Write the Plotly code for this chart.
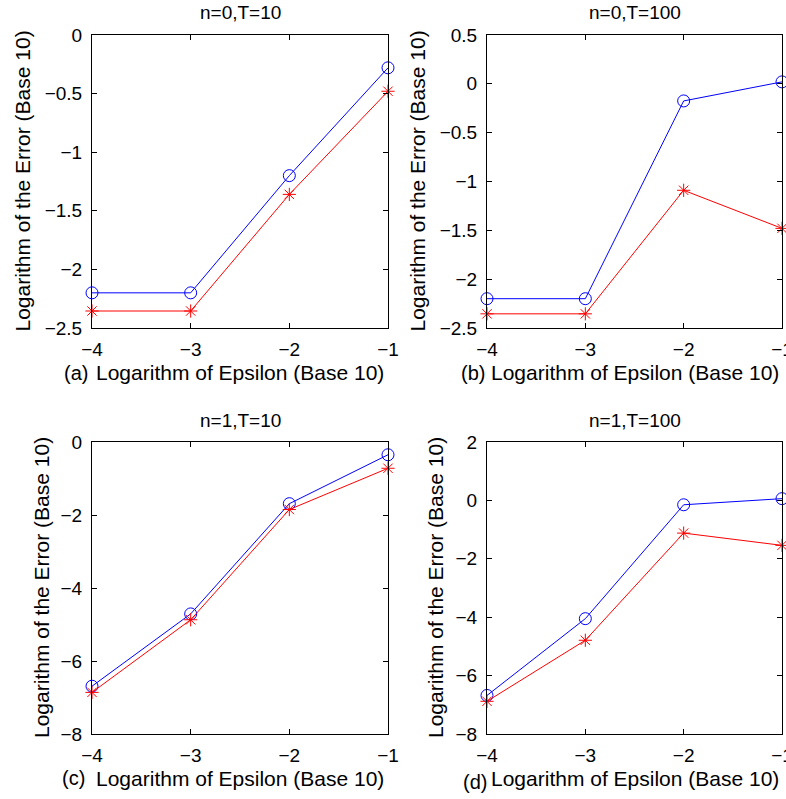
import plotly.graph_objects as go

W, H = 786, 799
FONT = "Liberation Sans, Arial, Helvetica, sans-serif"

# ---- data ----
log_eps = [-4, -3, -2, -1]

a_blue = [-2.20, -2.20, -1.20, -0.28]
a_red = [-2.355, -2.355, -1.36, -0.48]

b_blue = [-2.20, -2.20, -0.175, 0.02]
b_red = [-2.355, -2.355, -1.09, -1.48]

c_blue = [-6.69, -4.71, -1.69, -0.35]
c_red = [-6.86, -4.87, -1.85, -0.72]

d_blue = [-6.68, -4.05, -0.15, 0.06]
d_red = [-6.88, -4.79, -1.12, -1.54]

titles = ["n=0,T=10", "n=0,T=100", "n=1,T=10", "n=1,T=100"]
panel_tags = ["(a)", "(b)", "(c)", "(d)"]
xlabel = "Logarithm of Epsilon (Base 10)"
ylabel = "Logarithm of the Error (Base 10)"

x_ticks = [-4, -3, -2, -1]
x_ticktext = ["\u22124", "\u22123", "\u22122", "\u22121"]

a_yticks = [-2.5, -2, -1.5, -1, -0.5, 0]
a_yticktext = ["\u22122.5", "\u22122", "\u22121.5", "\u22121", "\u22120.5", "0"]
b_yticks = [-2.5, -2, -1.5, -1, -0.5, 0, 0.5]
b_yticktext = ["\u22122.5", "\u22122", "\u22121.5", "\u22121", "\u22120.5", "0", "0.5"]
c_yticks = [-8, -6, -4, -2, 0]
c_yticktext = ["\u22128", "\u22126", "\u22124", "\u22122", "0"]
d_yticks = [-8, -6, -4, -2, 0, 2]
d_yticktext = ["\u22128", "\u22126", "\u22124", "\u22122", "0", "2"]

yranges = [[-2.5, 0], [-2.5, 0.5], [-8, 0], [-8, 2]]

# ---- layout geometry (pixels) ----
boxes = [  # left, right, top, bottom
    (92, 388, 35, 328),
    (487, 782, 35, 328),
    (92, 388, 442, 734),
    (487, 782, 442, 734),
]

def px(x):
    return x / W

def py(y):
    return 1 - y / H

fig = go.Figure()

series = [(a_blue, a_red), (b_blue, b_red), (c_blue, c_red), (d_blue, d_red)]
yt = [(a_yticks, a_yticktext), (b_yticks, b_yticktext), (c_yticks, c_yticktext), (d_yticks, d_yticktext)]

layout = dict(
    width=W, height=H, margin=dict(l=0, r=0, t=0, b=0, pad=0), autosize=False,
    paper_bgcolor="white", plot_bgcolor="white", showlegend=False,
    font=dict(family=FONT, color="black"),
)

annotations = []
ylab_x = [22, 417, 41, 435]
for i, (blue, red) in enumerate(series):
    n = i + 1
    xa = "x" if n == 1 else f"x{n}"
    ya = "y" if n == 1 else f"y{n}"
    fig.add_trace(go.Scatter(
        x=log_eps, y=blue, mode="lines+markers", xaxis=xa, yaxis=ya,
        line=dict(color="#0000FF", width=1),
        marker=dict(symbol="circle-open", size=12, color="#0000FF", line=dict(width=1)),
        cliponaxis=False,
    ))
    fig.add_trace(go.Scatter(
        x=log_eps, y=red, mode="lines+markers", xaxis=xa, yaxis=ya,
        line=dict(color="#FF0000", width=1),
        marker=dict(symbol="asterisk-open", size=11, color="#FF0000", line=dict(width=1, color="#FF0000")),
        cliponaxis=False,
    ))
    l, r, t, b = boxes[i]
    axcommon = dict(
        showgrid=False, zeroline=False, showline=True, linecolor="black", linewidth=1,
        mirror="allticks", ticks="inside", ticklen=5, tickcolor="black", tickwidth=1,
        tickfont=dict(family=FONT, size=19, color="black"), automargin=False,
        ticklabeloverflow="allow",
    )
    layout["xaxis" if n == 1 else f"xaxis{n}"] = dict(
        domain=[px(l), px(r)], anchor=ya, range=[-4, -1],
        tickmode="array", tickvals=x_ticks, ticktext=x_ticktext,
        ticklabelstandoff=4, **axcommon,
    )
    layout["yaxis" if n == 1 else f"yaxis{n}"] = dict(
        domain=[py(b), py(t)], anchor=xa, range=yranges[i],
        tickmode="array", tickvals=yt[i][0], ticktext=yt[i][1],
        ticklabelstandoff=5, **axcommon,
    )
    cx = (l + r) / 2
    # title
    annotations.append(dict(
        text=titles[i], x=px(cx), y=py(t - 22), xref="paper", yref="paper",
        xanchor="center", yanchor="middle", showarrow=False,
        font=dict(family=FONT, size=19, color="black"),
    ))
    # y label
    annotations.append(dict(
        text=ylabel, x=px(ylab_x[i]), y=py((t + b) / 2), xref="paper", yref="paper",
        xanchor="center", yanchor="middle", showarrow=False, textangle=-90,
        font=dict(family=FONT, size=21, color="black"),
    ))
    # x label
    annotations.append(dict(
        text=xlabel, x=px(cx), y=py(b + 44), xref="paper", yref="paper",
        xanchor="center", yanchor="middle", showarrow=False,
        font=dict(family=FONT, size=21, color="black"),
    ))
    # panel tag
    tag_x = [76, 473, 73, 475][i]
    tag_dy = [45, 45, 44, 48][i]
    annotations.append(dict(
        text=panel_tags[i], x=px(tag_x), y=py(b + tag_dy), xref="paper", yref="paper",
        xanchor="center", yanchor="middle", showarrow=False,
        font=dict(family=FONT, size=20, color="black"),
    ))

layout["annotations"] = annotations
fig.update_layout(**layout)
fig.write_html("out.html", config={"displayModeBar": False},
               post_script="document.body.style.margin='0';")
